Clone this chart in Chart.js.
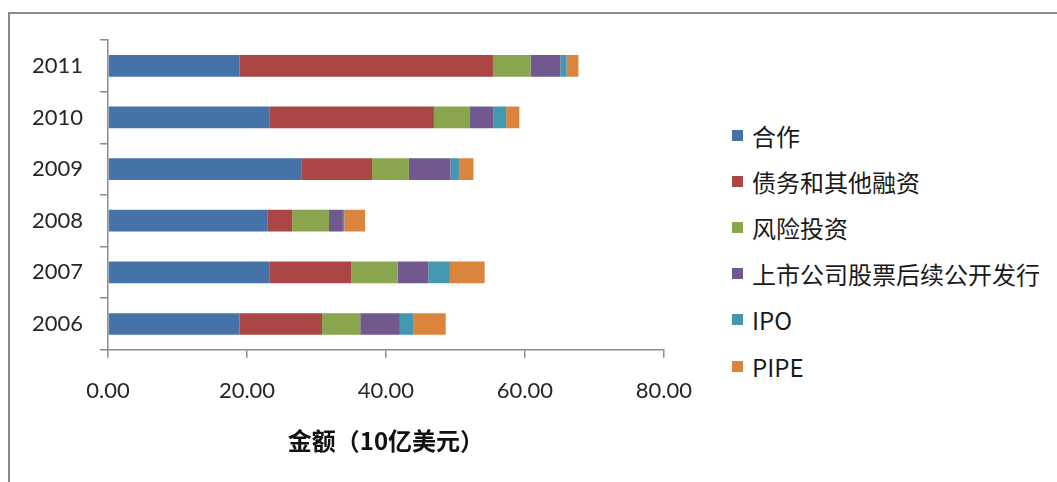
<!DOCTYPE html>
<html>
<head>
<meta charset="utf-8">
<script src="https://cdn.jsdelivr.net/npm/chart.js@4/dist/chart.umd.min.js"></script>
<style>
  html, body { margin: 0; padding: 0; background: #fff; }
  body { width: 1057px; height: 482px; position: relative; overflow: hidden; }
  .frame {
    position: absolute; left: 8px; top: 12px; right: -4px; bottom: -4px;
    border-top: 2px solid #8a8a8a; border-left: 2px solid #8a8a8a;
  }
  .plot { position: absolute; left: 0; top: 0; width: 712px; height: 482px; }
  .legend {
    position: absolute; left: 732px; top: 112px;
    font-family: "Noto Sans CJK SC", sans-serif; font-size: 24px; color: #1a1a1a;
  }
  .legend .row { height: 46.2px; display: flex; align-items: center; white-space: nowrap; }
  .legend .sw { width: 11px; height: 11px; margin-right: 9px; flex: none; }
</style>
</head>
<body>
<div class="frame"></div>
<div class="plot"><canvas id="fundChart"></canvas></div>
<div class="legend" id="fund-legend"></div>
<script>
// 融资金额（10亿美元），按年份 2006–2011
const YEARS   = ['2006', '2007', '2008', '2009', '2010', '2011'];
const SERIES  = ['合作', '债务和其他融资', '风险投资', '上市公司股票后续公开发行', 'IPO', 'PIPE'];
const COLORS  = ['#4572a7', '#aa4643', '#89a54e', '#71588f', '#4198af', '#db843d'];

const PARTNER = [18.9, 23.2, 23.0, 27.8, 23.2, 18.9];
const DEBT    = [11.9, 11.8,  3.5, 10.2, 23.7, 36.5];
const VENTURE = [ 5.5,  6.7,  5.3,  5.3,  5.2,  5.4];
const FOLLOW  = [ 5.7,  4.4,  2.0,  6.0,  3.4,  4.3];
const IPO     = [ 1.9,  3.1,  0.2,  1.2,  1.8,  0.9];
const PIPE    = [ 4.7,  5.0,  3.0,  2.1,  1.9,  1.7];

const X_TICKS = [0, 20, 40, 60, 80];

const values = [PARTNER, DEBT, VENTURE, FOLLOW, IPO, PIPE];
const AXIS   = '#8c8c8c';

const datasets = SERIES.map((name, i) => ({
  label: name,
  data: values[i],
  backgroundColor: COLORS[i],
  borderWidth: 0,
  barPercentage: 0.42,
  categoryPercentage: 1,
}));

new Chart(document.getElementById('fundChart'), {
  type: 'bar',
  data: { labels: YEARS, datasets },
  options: {
    indexAxis: 'y',
    responsive: true,
    maintainAspectRatio: false,
    animation: false,
    layout: { padding: { left: 15, right: 25, top: 40, bottom: 23 } },
    scales: {
      x: {
        stacked: true,
        min: X_TICKS[0],
        max: X_TICKS[X_TICKS.length - 1],
        afterBuildTicks: s => { s.ticks = X_TICKS.map(v => ({ value: v })); },
        border: { color: AXIS, width: 1.5 },
        grid: { drawOnChartArea: false, drawTicks: true, tickLength: 8, color: AXIS, lineWidth: 1.5 },
        ticks: {
          padding: 20, color: '#262626', maxRotation: 0,
          font: { family: 'Lato', size: 22 },
          callback: v => Number(v).toFixed(2),
        },
        title: {
          display: true, text: '金额（10亿美元）', color: '#111',
          font: { family: '"Noto Sans CJK SC"', size: 24, weight: 'bold' },
          padding: { top: 2, bottom: 4 },
        },
      },
      y: {
        stacked: true,
        reverse: true,
        border: { color: AXIS, width: 1.5 },
        grid: { offset: true, drawOnChartArea: false, drawTicks: true, tickLength: 8, color: AXIS, lineWidth: 1.5 },
        ticks: { padding: 17, color: '#262626', font: { family: 'Lato', size: 22 } },
      },
    },
    plugins: { legend: { display: false }, tooltip: { enabled: false } },
  },
});

document.getElementById('fund-legend').innerHTML = SERIES.map((name, i) =>
  `<div class="row"><span class="sw" style="background:${COLORS[i]}"></span>${name}</div>`
).join('');
</script>
</body>
</html>
